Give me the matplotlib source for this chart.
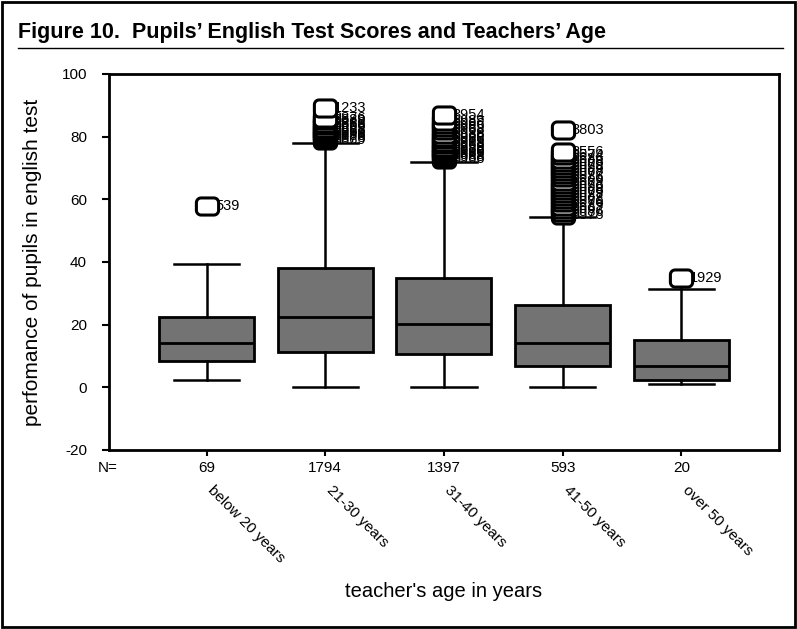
import matplotlib
matplotlib.use("Agg")
import matplotlib.pyplot as plt
import numpy as np
from matplotlib import font_manager
from matplotlib.markers import MarkerStyle
from matplotlib.patches import Rectangle
from matplotlib.lines import Line2D
from matplotlib.path import Path
from matplotlib.transforms import blended_transform_factory, offset_copy

# Polices : Arial étroite si possible
noms = {f.name for f in font_manager.fontManager.ttflist}
police = "Liberation Sans Narrow" if "Liberation Sans Narrow" in noms else "Liberation Sans"
plt.rcParams['font.family'] = [police, 'DejaVu Sans']
plt.rcParams['axes.unicode_minus'] = False

# Données
categories = ["below 20 years", "21-30 years", "31-40 years", "41-50 years", "over 50 years"]
effectifs = ["69", "1794", "1397", "593", "20"]
q1 = [8.3, 11.2, 10.5, 6.7, 2.2]
mediane = [14.0, 22.3, 20.3, 14.0, 6.7]
q3 = [22.3, 38.0, 35.0, 26.2, 15.0]
moustache_bas = [2.2, 0.0, 0.0, 0.0, 1.0]
moustache_haut = [39.2, 78.0, 72.0, 54.2, 31.3]

# Valeurs aberrantes et numéros de cas
aberrants = [
    [58.0],
    [79.0, 79.6, 80.2, 80.8, 81.4, 82.0, 82.8, 83.6, 84.4, 85.2, 86.0, 89.0],
    [73.0, 73.6, 74.2, 74.8, 75.4, 76.0, 76.8, 77.6, 78.4, 79.2, 80.0, 81.0, 82.0,
     83.0, 84.0, 85.0, 87.0],
    [55.0, 56.0, 57.0, 58.0, 59.0, 60.0, 61.0, 62.0, 63.0, 64.0, 65.0, 66.0, 67.0,
     68.0, 69.0, 70.0, 71.0, 72.0, 73.0, 74.0, 75.0, 82.0],
    [35.0],
]
cas = [
    ["539"],
    ["3869", "3878", "3886", "3868", "3866", "3888", "3869", "3868", "3886", "3889", "3876", "1233"],
    ["3966", "3988", "3965", "3989", "3968", "3986", "3959", "3988", "3965", "3986", "3969", "3988", "3968",
     "3985", "3986", "3989", "3954"],
    ["3578", "3586", "3567", "3589", "3576", "3568", "3587", "3579", "3568", "3596", "3578", "3569", "3586",
     "3577", "3568", "3596", "3579", "3568", "3586", "3574", "3556", "3803"],
    ["1929"],
]


# Rectangle arrondi pour imiter les cercles SPSS
def rectangle_arrondi(l=1.3, h=1.0, r=0.55, n=8):
    pts = []
    coins = [(l - r, h - r, 0), (-l + r, h - r, 90), (-l + r, -h + r, 180), (l - r, -h + r, 270)]
    for cx, cy, a0 in coins:
        for t in np.linspace(np.radians(a0), np.radians(a0 + 90), n):
            pts.append((cx + r * np.cos(t), cy + r * np.sin(t)))
    pts.append(pts[0])
    return Path(pts, closed=True)


fig = plt.figure(figsize=(7.97, 6.29), dpi=100)

# Cadre extérieur et titre
fig.patches.append(Rectangle((0.003, 0.003), 0.994, 0.994, transform=fig.transFigure,
                             fill=False, edgecolor='black', linewidth=2))
fig.text(0.022, 0.949, "Figure 10.  Pupils\u2019 English Test Scores and Teachers\u2019 Age",
         fontsize=15.5, fontweight='bold', ha='left', va='center')
fig.lines.append(Line2D([0.022, 0.982], [0.924, 0.924], transform=fig.transFigure,
                        color='black', linewidth=1))

ax = fig.add_axes([0.137, 0.2846, 0.840, 0.5978])

positions = np.arange(1, len(categories) + 1)
stats = []
for i in range(len(categories)):
    stats.append(dict(med=mediane[i], q1=q1[i], q3=q3[i],
                      whislo=moustache_bas[i], whishi=moustache_haut[i], fliers=[]))

ax.bxp(stats, positions=positions, widths=0.8, capwidths=0.55, patch_artist=True,
       showfliers=False,
       boxprops=dict(facecolor='#737373', edgecolor='black', linewidth=2),
       medianprops=dict(color='black', linewidth=2),
       whiskerprops=dict(color='black', linewidth=1.8),
       capprops=dict(color='black', linewidth=1.8))

# Valeurs aberrantes
marqueur = MarkerStyle(rectangle_arrondi())
for i, (vals, noms_cas) in enumerate(zip(aberrants, cas)):
    x = np.full(len(vals), positions[i])
    ax.plot(x, vals, linestyle='none', marker=marqueur, markersize=16,
            markerfacecolor='white', markeredgecolor='black', markeredgewidth=2.2,
            zorder=5, clip_on=False)
    decal = offset_copy(ax.transData, fig=fig, x=8.5, y=0, units='dots')
    for v, c in zip(vals, noms_cas):
        ax.text(positions[i], v, c, transform=decal, fontsize=10.5,
                ha='left', va='center', zorder=4)

ax.set_xlim(0.18, 5.82)
ax.set_ylim(-20, 100)
ax.set_yticks([-20, 0, 20, 40, 60, 80, 100])
ax.set_xticks(positions, effectifs)
ax.tick_params(axis='both', direction='out', length=5, width=1.5, labelsize=11)
ax.tick_params(axis='y', pad=11)
ax.tick_params(axis='x', length=4, pad=4)
for s in ax.spines.values():
    s.set_linewidth(2)

# Libellés N= et catégories inclinées
trans = blended_transform_factory(ax.transData, ax.transAxes)
ax.text(0.013, -0.048, "N=", transform=ax.transAxes, fontsize=11, ha='right', va='center')
for p, nom in zip(positions, categories):
    ax.text(p + 0.07, -0.088, nom, transform=trans, fontsize=11, rotation=-45,
            rotation_mode='anchor', ha='left', va='top')

ax.set_ylabel("perfomance of pupils in english test", fontsize=15, labelpad=14)
fig.text(0.556, 0.059, "teacher's age in years", fontsize=14.5, ha='center', va='center')

fig.savefig("out.png", dpi=100)
